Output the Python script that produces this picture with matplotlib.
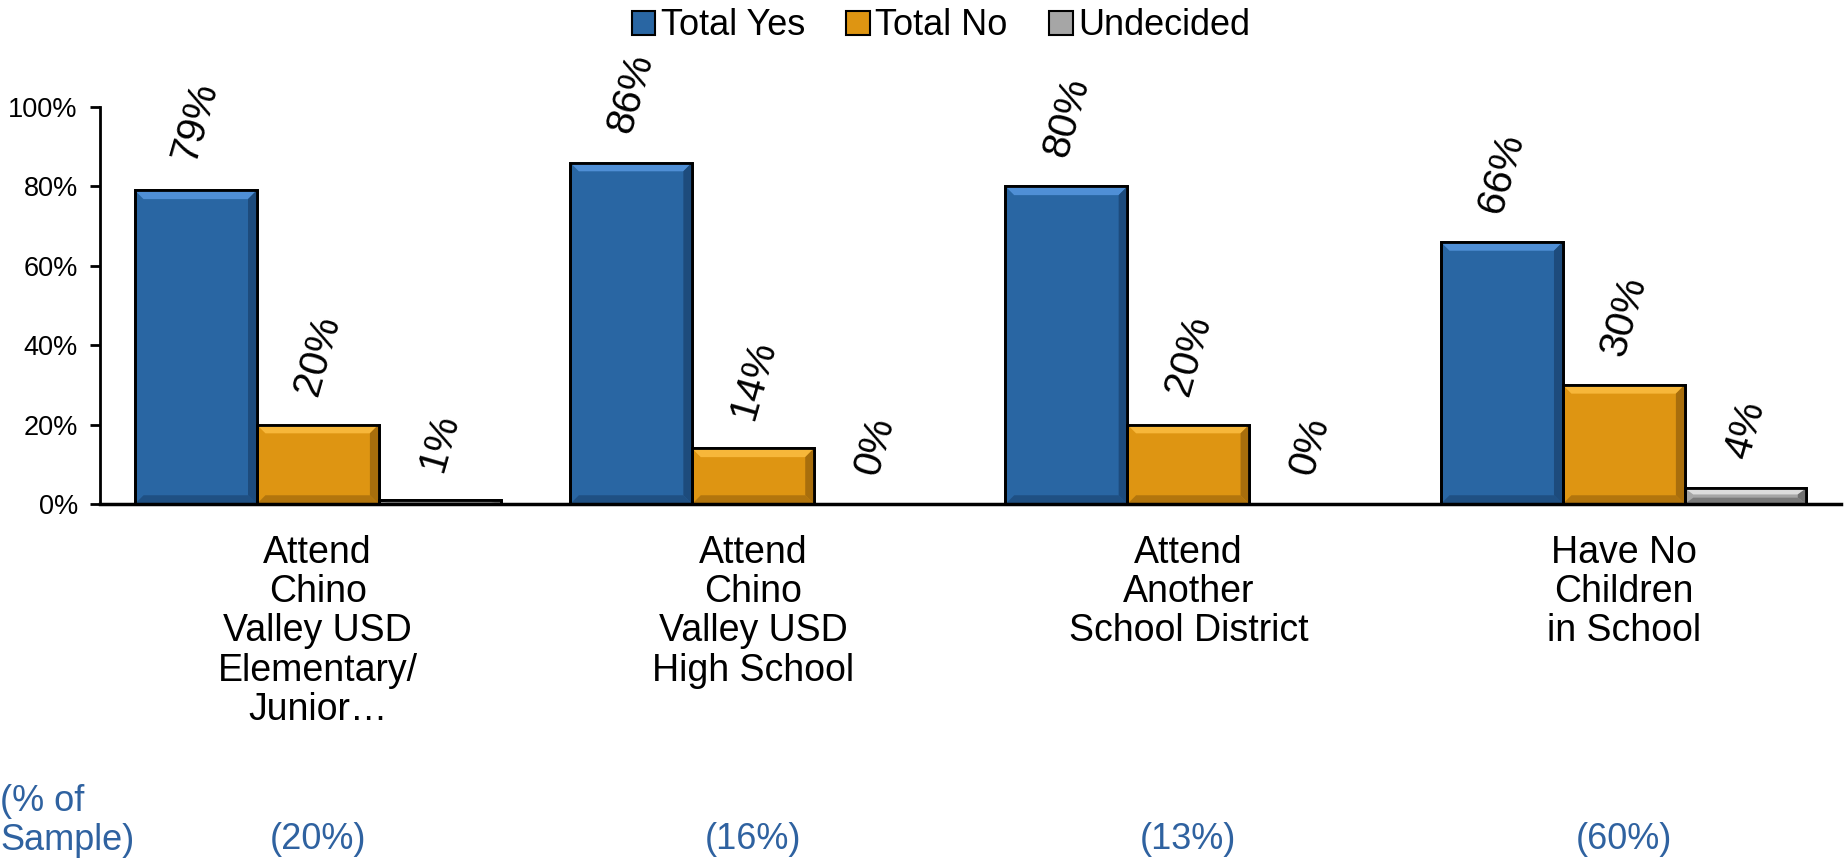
import matplotlib
matplotlib.use("Agg")
import matplotlib.pyplot as plt
import matplotlib.transforms as mtransforms
from matplotlib.patches import Polygon, Patch
import numpy as np

plt.rcParams['font.family'] = ['Liberation Sans', 'DejaVu Sans']

# ---- data ----
categories = ["Attend\nChino\nValley USD\nElementary/\nJunior\u2026",
              "Attend\nChino\nValley USD\nHigh School",
              "Attend\nAnother\nSchool District",
              "Have No\nChildren\nin School"]
series_names = ["Total Yes", "Total No", "Undecided"]
total_yes = [79, 86, 80, 66]
total_no = [20, 14, 20, 30]
undecided = [1, 0, 0, 4]
sample_share = ["(20%)", "(16%)", "(13%)", "(60%)"]
sample_title = "(% of\nSample)"
yticks = [0, 20, 40, 60, 80, 100]

# ---- styling ----
colors = ["#2966A3", "#DE9512", "#A6A6A6"]
light = ["#4F8FD6", "#F7B73A", "#DCDCDC"]
dark = ["#1D4B7C", "#A86E0C", "#707070"]
sample_color = "#2F62A0"

fig = plt.figure(figsize=(18.45, 8.58), dpi=100)
ax = fig.add_axes([0.0542, 0.4126, 0.9438, 0.4627])

x = np.arange(len(categories))
w = 0.28
series = [total_yes, total_no, undecided]
offsets = [-w, 0, w]

bev_x = 0.02
bev_y = 2.2

for si, vals in enumerate(series):
    bars = ax.bar(x + offsets[si], vals, width=w, color=colors[si],
                  edgecolor='black', linewidth=2, zorder=3)
    for b, v in zip(bars, vals):
        if v <= 0:
            continue
        x0, x1 = b.get_x(), b.get_x() + b.get_width()
        y0, y1 = 0, b.get_height()
        by = min(bev_y, y1 / 2.5)
        bx = bev_x
        ax.add_patch(Polygon([(x0, y1), (x1, y1), (x1 - bx, y1 - by), (x0 + bx, y1 - by)],
                             closed=True, facecolor=light[si], edgecolor='none', zorder=3.5))
        ax.add_patch(Polygon([(x1, y1), (x1, y0), (x1 - bx, y0 + by), (x1 - bx, y1 - by)],
                             closed=True, facecolor=dark[si], edgecolor='none', zorder=3.5))
        ax.add_patch(Polygon([(x0, y0), (x1, y0), (x1 - bx, y0 + by), (x0 + bx, y0 + by)],
                             closed=True, facecolor=dark[si], edgecolor='none', zorder=3.5, alpha=0.8))
        ax.add_patch(plt.Rectangle((x0, y0), x1 - x0, y1 - y0, facecolor='none',
                                   edgecolor='black', linewidth=2, zorder=4))
    for xi, v in zip(x + offsets[si], vals):
        ax.annotate(f"{v}%", xy=(xi, v), xytext=(0, 18), textcoords='offset points',
                    ha='center', va='bottom', rotation=74, fontsize=29, zorder=5)

ax.set_xlim(-0.5, 3.5)
ax.set_ylim(0, 100)
ax.set_yticks(yticks)
ax.set_yticklabels([f"{t}%" for t in yticks])
ax.set_xticks(x)
ax.set_xticklabels(categories, linespacing=1.12)
ax.tick_params(axis='x', length=0, pad=22, labelsize=27)
ax.tick_params(axis='y', direction='out', length=7, width=2, labelsize=19.5, pad=9)
for s in ['top', 'right']:
    ax.spines[s].set_visible(False)
ax.spines['left'].set_linewidth(2)
ax.spines['bottom'].set_linewidth(2.5)
ax.spines['bottom'].set_zorder(6)

# sample labels
blend = mtransforms.blended_transform_factory(ax.transData, fig.transFigure)
for xi, s in zip(x, sample_share):
    ax.text(xi, 0.021, s, transform=blend, ha='center', va='center',
            fontsize=26, color=sample_color)
fig.text(0.0, 0.043, sample_title, ha='left', va='center', fontsize=26,
         color=sample_color, linespacing=1.15)

# legend
handles = [Patch(facecolor=colors[i], edgecolor='black', linewidth=1.5) for i in range(3)]
fig.legend(handles, series_names, loc='center', bbox_to_anchor=(0.51, 0.97), ncol=3,
           frameon=False, fontsize=26, handlelength=0.65, handleheight=0.65,
           handletextpad=0.15, columnspacing=1.15, borderaxespad=0)

fig.savefig("out.png", dpi=100)
